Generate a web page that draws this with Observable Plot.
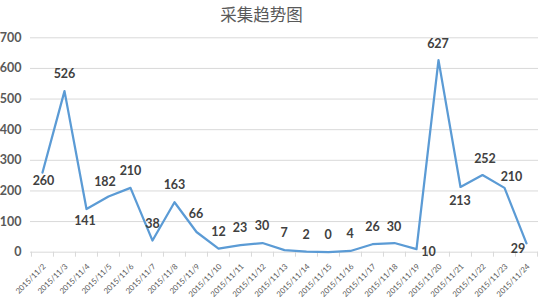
<!DOCTYPE html>
<html>
<head>
<meta charset="utf-8">
<script src="https://cdn.jsdelivr.net/npm/d3@7"></script>
<script src="https://cdn.jsdelivr.net/npm/@observablehq/plot@0.6"></script>
<style>
  html, body { margin: 0; padding: 0; background: #fff; }
  #wrap { width: 539px; height: 300px; position: relative; overflow: hidden; }
  #title { height: 28px; line-height: 29px; text-align: center; padding-right: 16px;
           font-family: "Noto Sans CJK SC", sans-serif; font-size: 16.5px; color: #595959; }
</style>
</head>
<body>
<div id="wrap">
  <div id="title">采集趋势图</div>
  <div id="chart"></div>
</div>
<script>
const dates = ["2015/11/2","2015/11/3","2015/11/4","2015/11/5","2015/11/6","2015/11/7","2015/11/8","2015/11/9","2015/11/10","2015/11/11","2015/11/12","2015/11/13","2015/11/14","2015/11/15","2015/11/16","2015/11/17","2015/11/18","2015/11/19","2015/11/20","2015/11/21","2015/11/22","2015/11/23","2015/11/24"];
const counts = [260,526,141,182,210,38,163,66,12,23,30,7,2,0,4,26,30,10,627,213,252,210,29];
const yTicks = [0,100,200,300,400,500,600,700];

// label placement (pixel offsets from each point), layout only
const labelOffsets = [[1,8],[0,-17],[-1.5,12],[-3.5,-14],[0,-17],[0,-17],[0,-17],[-0.5,-18],[0,-17],[-0.5,-17],[-0.5,-17],[-0.5,-17],[-0.5,-17],[-0.5,-17],[-0.5,-16.5],[0,-17],[-0.5,-16.5],[12,2.5],[-0.5,-16],[-0.5,14.5],[2.5,-16.5],[7,-11],[-8.5,6]];

const W = 539, H = 272, ML = 30, MR = 1, MT = 9.3, MB = 48.3;
const step = (W - ML - MR) / dates.length;
const rows = dates.map((d, i) => ({date: d, value: counts[i]}));
const font = "Lato, 'Open Sans', sans-serif";

const labelMarks = rows.map((r, i) => Plot.text([r], {
  x: "date", y: "value", text: d => String(d.value),
  dx: labelOffsets[i][0], dy: labelOffsets[i][1],
  fill: "#404040", fontSize: 12.5, fontWeight: "bold", fontFamily: font
}));

const chart = Plot.plot({
  width: W, height: H,
  marginLeft: ML, marginRight: MR, marginTop: MT, marginBottom: MB,
  style: {background: "#fff", overflow: "visible"},
  x: {type: "point", domain: dates, padding: 0.5, axis: null},
  y: {domain: [0, 700], axis: null},
  marks: [
    Plot.ruleY(yTicks, {stroke: "#d9d9d9", strokeWidth: 1}),
    Plot.ruleX(dates, {x: d => d, y1: 0, y2: 0, dx: -step / 2, insetBottom: -5, stroke: "#d9d9d9"}),
    Plot.ruleX([dates[dates.length - 1]], {x: d => d, y1: 0, y2: 0, dx: step / 2, insetBottom: -5, stroke: "#d9d9d9"}),
    Plot.text(yTicks, {x: () => dates[0], y: d => d, text: d => String(d), textAnchor: "end",
      dx: -(step / 2) - 10, fill: "#595959", fontSize: 12.5, fontWeight: "bold", fontFamily: font}),
    Plot.text(dates, {x: d => d, y: () => 0, text: d => d, rotate: -45, textAnchor: "end",
      dx: 2, dy: 13, fill: "#595959", fontSize: 7.8, fontFamily: font}),
    Plot.line(rows, {x: "date", y: "value", stroke: "#5b9bd5", strokeWidth: 2.25, strokeLinejoin: "round"}),
    ...labelMarks
  ]
});
document.getElementById("chart").appendChild(chart);
</script>
</body>
</html>
